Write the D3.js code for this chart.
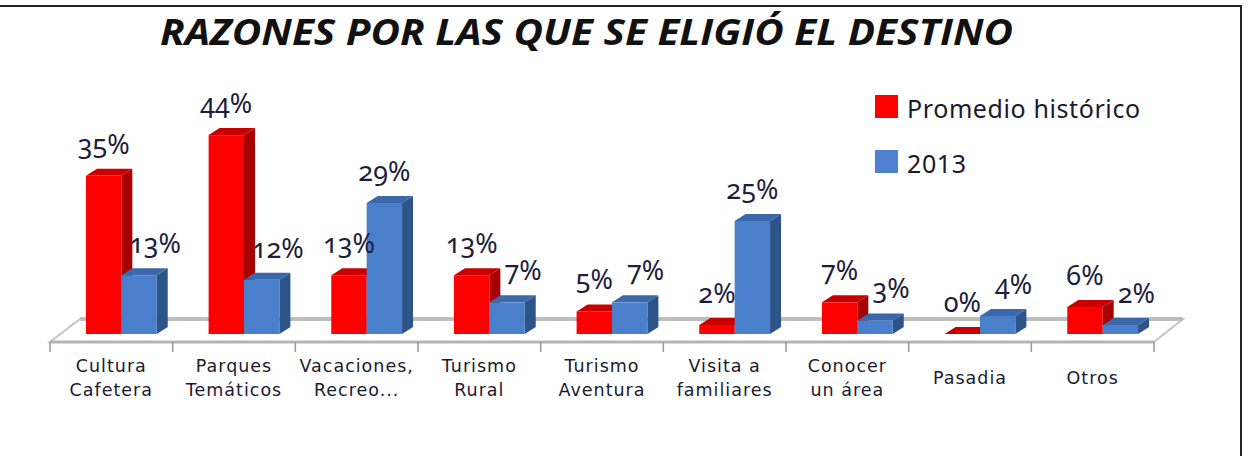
<!DOCTYPE html>
<html>
<head>
<meta charset="utf-8">
<script src="https://cdn.jsdelivr.net/npm/d3@7"></script>
<style>
  body { margin: 0; background: #fff; }
  svg { display: block; }
</style>
</head>
<body>
<div id="chart"></div>
<script>
// Chart data
const categories = [
    "Cultura\nCafetera", "Parques\nTemáticos", "Vacaciones,\nRecreo...",
    "Turismo\nRural", "Turismo\nAventura", "Visita a\nfamiliares",
    "Conocer\nun área", "Pasadia", "Otros"
];
const historico = [35, 44, 13, 13, 5, 2, 7, 0, 6];
const valores2013 = [13, 12, 29, 7, 7, 25, 3, 4, 2];
const seriesNames = ["Promedio histórico", "2013"];
const titleText = "RAZONES POR LAS QUE SE ELIGIÓ EL DESTINO";

const width = 1249, height = 456;

// colours for front / top / side faces
const faces = {
    "Promedio histórico": { front: "#ff0000", top: "#c80000", side: "#a80000" },
    "2013": { front: "#4a7fcc", top: "#3a68aa", side: "#2d5488" }
};

const svg = d3.select("#chart")
    .append("svg")
    .attr("width", width)
    .attr("height", height);

// frame (top and right edge)
svg.append("path")
    .attr("d", "M0,6 H1241 V456")
    .attr("fill", "none")
    .attr("stroke", "#222")
    .attr("stroke-width", 2);

// title
svg.append("text")
    .attr("x", 160)
    .attr("y", 45)
    .attr("textLength", 853)
    .attr("lengthAdjust", "spacingAndGlyphs")
    .style("font-family", "'Open Sans', sans-serif")
    .style("font-weight", "bold")
    .style("font-style", "italic")
    .style("font-size", "35px")
    .attr("fill", "#111")
    .text(titleText);

// scales
const xScale = d3.scaleBand()
    .domain(d3.range(categories.length))
    .range([50, 1154])
    .padding(0);

const bw = xScale.bandwidth();

const seriesScale = d3.scaleBand()
    .domain(seriesNames)
    .range([bw * 0.293, bw * 0.87])
    .padding(0);

const yScale = d3.scaleLinear()
    .domain([0, 50])
    .range([334, 334 - 226]);

const depthX = 11, depthY = -7;

// floor
const floorFront = 342, floorBack = 319;
svg.append("polygon")
    .attr("points", [
        [50, floorFront], [50 + 30, floorBack],
        [1154 + 29, floorBack], [1154, floorFront]
    ].map(p => p.join(",")).join(" "))
    .attr("fill", "#fff")
    .attr("stroke", "#c4c4c4")
    .attr("stroke-width", 2);

svg.append("line")
    .attr("x1", 80).attr("x2", 1183)
    .attr("y1", floorBack).attr("y2", floorBack)
    .attr("stroke", "#bdbdbd")
    .attr("stroke-width", 4);

svg.append("line")
    .attr("x1", 50).attr("x2", 1154)
    .attr("y1", floorFront).attr("y2", floorFront)
    .attr("stroke", "#b5b5b5")
    .attr("stroke-width", 3);

// category ticks
const tickPos = d3.range(categories.length + 1).map(i =>
    i < categories.length ? xScale(i) : xScale(i - 1) + bw);

svg.selectAll(".tick-line")
    .data(tickPos)
    .join("line")
    .attr("class", "tick-line")
    .attr("x1", d => d).attr("x2", d => d)
    .attr("y1", floorFront).attr("y2", floorFront + 10)
    .attr("stroke", "#999")
    .attr("stroke-width", 1.5);

// bars
const barData = [];
categories.forEach((c, i) => {
    barData.push({ i, series: seriesNames[0], value: historico[i] });
    barData.push({ i, series: seriesNames[1], value: valores2013[i] });
});

const bars = svg.selectAll(".bar3d")
    .data(barData)
    .join("g")
    .attr("class", "bar3d");

bars.each(function (d) {
    const g = d3.select(this);
    const x0 = xScale(d.i) + seriesScale(d.series);
    const w = seriesScale.bandwidth();
    const yt = yScale(d.value);
    const yb = yScale(0);
    const col = faces[d.series];

    // side face
    g.append("polygon")
        .attr("points", [[x0 + w, yt], [x0 + w + depthX, yt + depthY],
            [x0 + w + depthX, yb + depthY], [x0 + w, yb]].map(p => p.join(",")).join(" "))
        .attr("fill", col.side);

    // top face
    g.append("polygon")
        .attr("points", [[x0, yt], [x0 + w, yt], [x0 + w + depthX, yt + depthY],
            [x0 + depthX, yt + depthY]].map(p => p.join(",")).join(" "))
        .attr("fill", col.top);

    // front face
    g.append("rect")
        .attr("x", x0)
        .attr("y", yt)
        .attr("width", w)
        .attr("height", yb - yt)
        .attr("fill", col.front);
});

// value labels
svg.selectAll(".value-label")
    .data(barData)
    .join("text")
    .attr("class", "value-label")
    .attr("x", d => {
        const cx = xScale(d.i) + seriesScale(d.series) + seriesScale.bandwidth() / 2;
        // short blue bars get their label nudged right, like the original
        return d.series === seriesNames[1] && d.value < 20 ? cx + 16 : cx;
    })
    .attr("y", d => yScale(d.value) - 22)
    .attr("text-anchor", "middle")
    .style("font-family", "'Noto Sans', sans-serif")
    .style("font-size", "27px")
    .style("font-variant-numeric", "oldstyle-nums")
    .attr("fill", "#1e1e3c")
    .text(d => `${d.value}%`);

// category labels
const catLabels = svg.selectAll(".cat-label")
    .data(categories)
    .join("text")
    .attr("class", "cat-label")
    .attr("text-anchor", "middle")
    .style("font-family", "'DejaVu Sans', sans-serif")
    .style("font-size", "17.5px")
    .style("letter-spacing", "1px")
    .attr("fill", "#1a1a2e");

catLabels.each(function (c, i) {
    const lines = c.split("\n");
    const cx = xScale(i) + bw / 2;
    const startY = lines.length === 1 ? 384 : 372;
    d3.select(this).selectAll("tspan")
        .data(lines)
        .join("tspan")
        .attr("x", cx)
        .attr("y", (l, j) => startY + j * 24)
        .text(l => l);
});

// legend
const legend = svg.selectAll(".legend")
    .data(seriesNames)
    .join("g")
    .attr("class", "legend")
    .attr("transform", (d, i) => `translate(875, ${95 + i * 55})`);

legend.append("rect")
    .attr("width", 23)
    .attr("height", 23)
    .attr("fill", d => d === seriesNames[0] ? "#ff0000" : "#4f81d0");

legend.append("text")
    .attr("x", 32)
    .attr("y", 23)
    .style("font-family", "'Noto Sans', sans-serif")
    .style("font-size", "25px")
    .style("letter-spacing", "0.6px")
    .attr("fill", "#1a1a2e")
    .text(d => d);
</script>
</body>
</html>
